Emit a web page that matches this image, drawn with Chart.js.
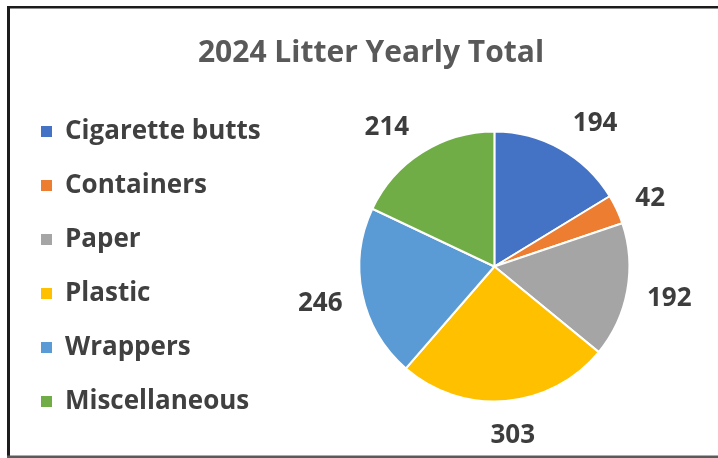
<!DOCTYPE html>
<html>
<head>
<meta charset="utf-8">
<title>2024 Litter Yearly Total</title>
<script src="https://cdn.jsdelivr.net/npm/chart.js@4/dist/chart.umd.min.js"></script>
<style>
  html, body { margin: 0; padding: 0; background: #ffffff; }
  #wrap { position: relative; width: 718px; height: 458px; }
</style>
</head>
<body>
<div id="wrap"><canvas id="chart" width="718" height="458"></canvas></div>
<script>
// Litter counts collected over the year, by category
const categories = ['Cigarette butts', 'Containers', 'Paper', 'Plastic', 'Wrappers', 'Miscellaneous'];
const totals = [194, 42, 192, 303, 246, 214];
const sliceColors = ['#4472C4', '#ED7D31', '#A5A5A5', '#FFC000', '#5B9BD5', '#70AD47'];
const chartTitle = '2024 Litter Yearly Total';

const FONT = '"Open Sans", Lato, "DejaVu Sans", sans-serif';

// White background plus the dark frame around the figure
const framePlugin = {
  id: 'frame',
  beforeDraw(chart) {
    const { ctx, width, height } = chart;
    ctx.save();
    ctx.fillStyle = '#ffffff';
    ctx.fillRect(0, 0, width, height);
    ctx.fillStyle = '#1c1c1c';
    ctx.fillRect(7, 6, 3, height - 6);
    ctx.fillRect(7, 6, width - 7, 2.5);
    ctx.fillStyle = '#5a5a5a';
    ctx.fillRect(7, height - 2.5, width - 7, 2.5);
    ctx.restore();
  }
};

// Value labels set just outside each slice
const outsideLabels = {
  id: 'outsideLabels',
  afterDatasetsDraw(chart) {
    const { ctx } = chart;
    const meta = chart.getDatasetMeta(0);
    const values = chart.data.datasets[0].data;
    ctx.save();
    ctx.font = 'bold 26px ' + FONT;
    ctx.fillStyle = '#3d3d3d';
    ctx.textAlign = 'center';
    ctx.textBaseline = 'middle';
    meta.data.forEach((arc, i) => {
      const { x, y, startAngle, endAngle, outerRadius } = arc.getProps(['x', 'y', 'startAngle', 'endAngle', 'outerRadius'], true);
      const mid = (startAngle + endAngle) / 2;
      const ux = Math.cos(mid), uy = Math.sin(mid);
      const text = String(values[i]);
      const halfW = ctx.measureText(text).width / 2;
      const r = outerRadius + 15;
      const lx = x + r * ux + (halfW + 5) * Math.max(-1, Math.min(1, ux * 2.5));
      const ly = y + r * uy + 17 * uy + 2.5;
      ctx.fillText(text, lx, ly);
    });
    ctx.restore();
  }
};

new Chart(document.getElementById('chart'), {
  type: 'pie',
  data: {
    labels: categories,
    datasets: [{
      data: totals,
      backgroundColor: sliceColors,
      borderColor: '#ffffff',
      borderWidth: 2,
      radius: 135
    }]
  },
  options: {
    responsive: false,
    animation: false,
    layout: { padding: { left: 13, right: -11, top: 0, bottom: 4 } },
    plugins: {
      title: {
        display: true,
        text: chartTitle,
        color: '#595959',
        font: { family: FONT, size: 30, weight: 'bold' },
        padding: { top: 35.5, bottom: 7.5 }
      },
      legend: {
        position: 'left',
        fullSize: false,
        labels: {
          color: '#404040',
          font: { family: FONT, size: 26, weight: 'bold' },
          boxWidth: 11,
          boxHeight: 11,
          padding: 28,
          generateLabels(chart) {
            return Chart.overrides.pie.plugins.legend.labels.generateLabels(chart)
              .map(item => Object.assign(item, { lineWidth: 0, strokeStyle: item.fillStyle }));
          }
        }
      },
      tooltip: { enabled: false }
    }
  },
  plugins: [framePlugin, outsideLabels]
});
</script>
</body>
</html>
